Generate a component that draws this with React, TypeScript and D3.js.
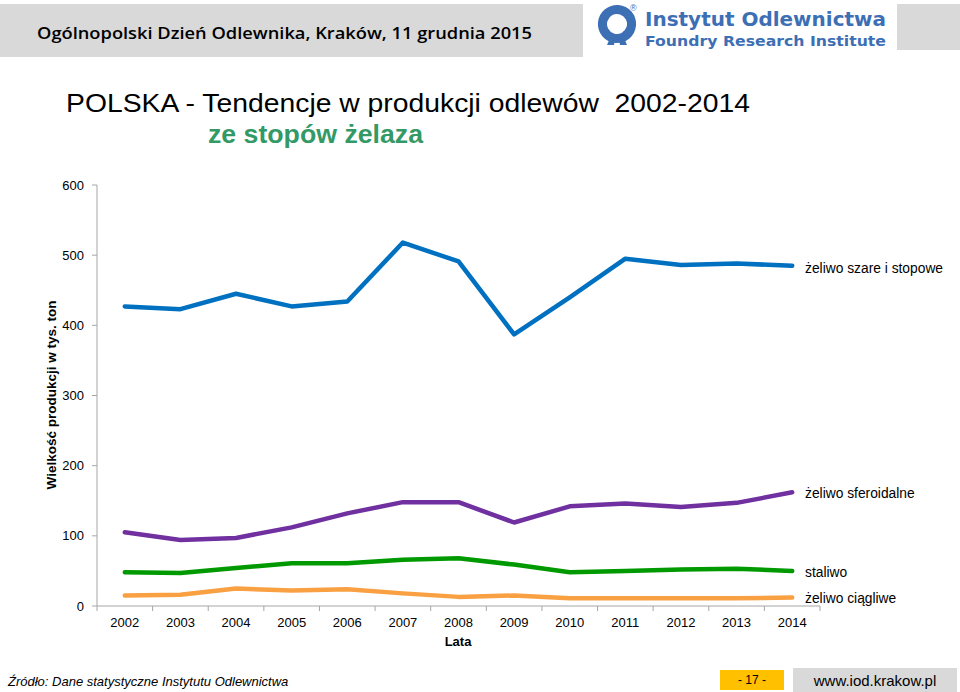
import React from "react";
import * as d3 from "d3";

const years = ["2002","2003","2004","2005","2006","2007","2008","2009","2010","2011","2012","2013","2014"];
const szare = [427, 423, 445, 427, 434, 518, 491, 387, 440, 495, 486, 488, 485];
const sferoidalne = [105, 94, 97, 112, 132, 148, 148, 119, 142, 146, 141, 147, 162];
const staliwo = [48, 47, 54, 61, 61, 66, 68, 59, 48, 50, 52, 53, 50];
const ciagliwe = [15, 16, 25, 22, 24, 18, 13, 15, 11, 11, 11, 11, 12];
const yTicks = [0, 100, 200, 300, 400, 500, 600];

const seriesNames = ["żeliwo szare i stopowe", "żeliwo sferoidalne", "staliwo", "żeliwo ciągliwe"];
const seriesValues = [szare, sferoidalne, staliwo, ciagliwe];
const seriesColors = ["#0070c0", "#7030a0", "#009a00", "#f9a042"];
const labelOffsets = [2, 1, 1, 1];

export default function App() {
  const x = d3.scaleBand().domain(years).range([97, 820]);
  const y = d3.scaleLinear().domain([0, 600]).range([606, 185]);
  const cx = (d: string) => (x(d) as number) + x.bandwidth() / 2;
  const line = d3.line<number>().x((_, i) => cx(years[i])).y((v) => y(v));
  const font = "Liberation Sans, Arial, sans-serif";
  const boundaries = years.map((d) => x(d) as number).concat([820]);

  const arc = d3.arc()({ innerRadius: 10, outerRadius: 19, startAngle: Math.PI * 0.9, endAngle: Math.PI * 3.1 } as any) as string;

  return (
    <svg width={960} height={692} style={{ position: "absolute", left: 0, top: 0, background: "#fff" }} fontFamily={font}>
      {/* header */}
      <rect x={0} y={4} width={583} height={53} fill="#d9d9d9" />
      <text x={37} y={39} fontFamily="Open Sans, Lato, sans-serif" fontWeight={600} fontSize={17} fill="#000" textLength={495} lengthAdjust="spacingAndGlyphs">Ogólnopolski Dzień Odlewnika, Kraków, 11 grudnia 2015</text>
      <rect x={897} y={4} width={63} height={46} fill="#d9d9d9" />
      <g transform="translate(617,24)">
        <path d={arc} fill="#3d6fb5" />
        <path d="M-7,14 L-10,21 L-3,21 L-2,16 Z" fill="#3d6fb5" />
        <path d="M7,14 L10,21 L3,21 L2,16 Z" fill="#3d6fb5" />
      </g>
      <text x={630} y={11} fontSize={9} fill="#3d6fb5">®</text>
      <text x={645} y={26} fontFamily="DejaVu Sans, sans-serif" fontWeight="bold" fontSize={19} fill="#3d6fb5" textLength={241} lengthAdjust="spacingAndGlyphs">Instytut Odlewnictwa</text>
      <text x={645} y={46} fontFamily="DejaVu Sans, sans-serif" fontWeight="bold" fontSize={14} fill="#3d6fb5" textLength={241} lengthAdjust="spacingAndGlyphs">Foundry Research Institute</text>

      {/* titles */}
      <text x={66} y={112} fontSize={26.5} fill="#000" style={{ whiteSpace: "pre" }} textLength={684} lengthAdjust="spacingAndGlyphs">POLSKA - Tendencje w produkcji odlewów  2002-2014</text>
      <text x={208} y={143} fontSize={26.5} fill="#339966" fontWeight="bold" textLength={215} lengthAdjust="spacingAndGlyphs">ze stopów żelaza</text>

      {/* y axis */}
      <line x1={97} x2={97} y1={185} y2={606} stroke="#a6a6a6" />
      {yTicks.map((t) => (
        <g key={t}>
          <line x1={92} x2={97} y1={y(t)} y2={y(t)} stroke="#a6a6a6" />
          <text x={84} y={y(t)} dy="0.35em" textAnchor="end" fontSize={13} fill="#000">{t}</text>
        </g>
      ))}
      <text transform="translate(56,395) rotate(-90)" textAnchor="middle" fontSize={13.5} fontWeight="bold" fill="#000">Wielkość produkcji w tys. ton</text>

      {/* x axis */}
      <line x1={97} x2={820} y1={606} y2={606} stroke="#a6a6a6" />
      {boundaries.map((b, i) => (
        <line key={i} x1={b} x2={b} y1={606} y2={611} stroke="#a6a6a6" />
      ))}
      {years.map((d) => (
        <text key={d} x={cx(d)} y={627} textAnchor="middle" fontSize={13} fill="#000">{d}</text>
      ))}
      <text x={458} y={646} textAnchor="middle" fontSize={13} fontWeight="bold" fill="#000">Lata</text>

      {/* series */}
      {seriesValues.map((vals, i) => (
        <g key={i}>
          <path d={line(vals) as string} fill="none" stroke={seriesColors[i]} strokeWidth={4.5} strokeLinejoin="round" strokeLinecap="round" />
          <text x={805} y={y(vals[vals.length - 1]) + labelOffsets[i]} dy="0.35em" fontSize={13.8} fill="#000">{seriesNames[i]}</text>
        </g>
      ))}

      {/* footer */}
      <text x={8} y={686} fontSize={13} fontStyle="italic" fill="#000">Źródło: Dane statystyczne Instytutu Odlewnictwa</text>
      <rect x={720} y={670} width={64} height={20} fill="#ffc000" />
      <text x={752} y={684} textAnchor="middle" fontSize={12} fill="#000">- 17 -</text>
      <rect x={793} y={668} width={164} height={24} fill="#d9d9d9" />
      <text x={875} y={686} textAnchor="middle" fontSize={15} fill="#000">www.iod.krakow.pl</text>
    </svg>
  );
}
